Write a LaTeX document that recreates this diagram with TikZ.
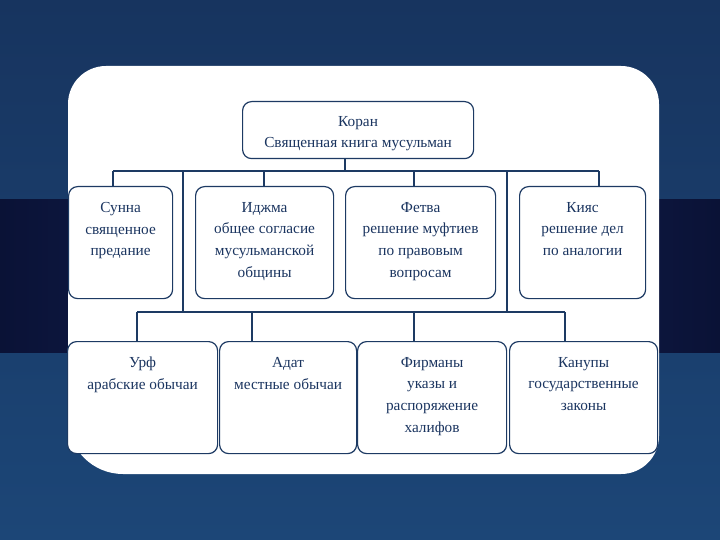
\documentclass[tikz,border=0pt]{standalone}
\usepackage{fontspec}
\setmainfont{Liberation Serif}
\definecolor{bgtop}{HTML}{17345F}
\definecolor{bgbot}{HTML}{1C4677}
\definecolor{banddark}{HTML}{0A1236}
\definecolor{bandmid}{HTML}{172558}
\definecolor{linec}{HTML}{1D3A63}
\definecolor{txtc}{HTML}{1B3560}
\tikzset{
  boxnode/.style={draw=linec, line width=1.2pt, rounded corners=9pt, fill=white,
    anchor=north west, inner sep=0pt},
  txtnode/.style={anchor=north, inner sep=0pt, align=center, text=txtc,
    font=\fontsize{15.3}{21.7}\selectfont},
  conn/.style={draw=linec, line width=1.2pt}
}
\begin{document}
\begin{tikzpicture}[x=1pt,y=-1pt]
\useasboundingbox (0,0) rectangle (720,540);
% background
\shade[top color=bgtop, bottom color=bgbot] (0,0) rectangle (720,540);
\shade[left color=banddark, right color=banddark, middle color=bandmid] (0,200) rectangle (720,352);
% white panel
\fill[white] (68,300) [rounded corners=55pt] -- (68,474) [rounded corners=38pt] -- (659,474) -- (659,66) -- (68,66) -- (68,300);

% boxes
\node[boxnode, minimum width=231pt, minimum height=57pt] (koran) at (242,101) {};
\node[boxnode, minimum width=104pt, minimum height=112pt] (sunna) at (68,186) {};
\node[boxnode, minimum width=138pt, minimum height=112pt] (ijma) at (195,186) {};
\node[boxnode, minimum width=150pt, minimum height=112pt] (fetva) at (345,186) {};
\node[boxnode, minimum width=126pt, minimum height=112pt] (kiyas) at (519,186) {};
\node[boxnode, minimum width=150pt, minimum height=112pt] (urf) at (67,341) {};
\node[boxnode, minimum width=137pt, minimum height=112pt] (adat) at (219,341) {};
\node[boxnode, minimum width=149pt, minimum height=112pt] (firman) at (357,341) {};
\node[boxnode, minimum width=148pt, minimum height=112pt] (kanun) at (509,341) {};

% texts
\node[txtnode] (koranT) at ([yshift=-15pt]koran.north) {Коран\\Священная книга мусульман};
\node[txtnode] (sunnaT) at ([yshift=-16pt]sunna.north) {Сунна\\священное\\предание};
\node[txtnode] (ijmaT) at ([yshift=-16pt]ijma.north) {Иджма\\общее согласие\\мусульманской\\общины};
\node[txtnode] (fetvaT) at ([yshift=-16pt]fetva.north) {Фетва\\решение муфтиев\\по правовым\\вопросам};
\node[txtnode] (kiyasT) at ([yshift=-16pt]kiyas.north) {Кияс\\решение дел\\по аналогии};
\node[txtnode] (urfT) at ([yshift=-16pt]urf.north) {Урф\\арабские обычаи};
\node[txtnode] (adatT) at ([yshift=-16pt]adat.north) {Адат\\местные обычаи};
\node[txtnode] (firmanT) at ([yshift=-16pt]firman.north) {Фирманы\\указы и\\распоряжение\\халифов};
\node[txtnode] (kanunT) at ([yshift=-16pt]kanun.north) {Канупы\\государственные\\законы};

% bus coordinates
\coordinate (busK) at (345,171);
\coordinate (busL) at (113,171);
\coordinate (busR) at (599,171);
\coordinate (vL) at (183,171);
\coordinate (vR) at (507,171);
\coordinate (lowL) at (137,312);
\coordinate (lowR) at (565,312);

% connectors upper
\draw[conn] (koran.south -| busK) -- (busK);
\draw[conn] (busL) -- (busR);
\draw[conn] (busL) -- (sunna.north -| busL);
\draw[conn] (264,171) -- (ijma.north -| 264,0);
\draw[conn] (414,171) -- (fetva.north -| 414,0);
\draw[conn] (busR) -- (kiyas.north -| busR);
\draw[conn] (vL) -- (vL |- lowL);
\draw[conn] (vR) -- (vR |- lowL);
% connectors lower
\draw[conn] (lowL) -- (lowR);
\draw[conn] (lowL) -- (urf.north -| lowL);
\draw[conn] (252,312) -- (adat.north -| 252,0);
\draw[conn] (414,312) -- (firman.north -| 414,0);
\draw[conn] (lowR) -- (kanun.north -| lowR);
\end{tikzpicture}
\end{document}
